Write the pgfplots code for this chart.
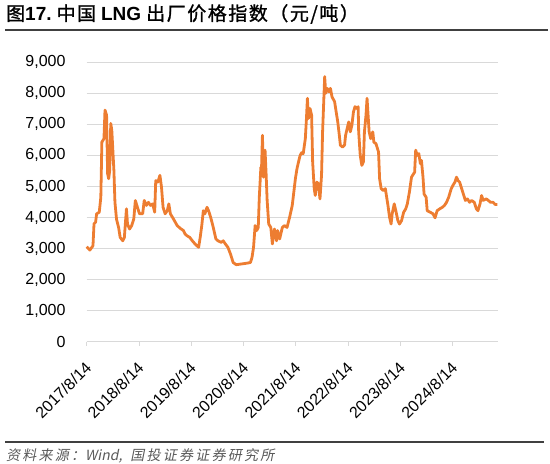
\documentclass[border=0pt]{standalone}
\usepackage{pgfplots}
\pgfplotsset{compat=1.18}
\usepackage{pgfplotstable}
\usepackage{fontspec}
\setmainfont{Liberation Sans}
\newfontfamily\cjk{Noto Sans CJK SC}
\newfontfamily\cjktitle{Noto Sans CJK SC}[FakeBold=1.2,LetterSpace=8]
\newfontfamily\cjksrc{Noto Sans CJK SC}[FakeSlant=0.2,LetterSpace=16]
\newfontfamily\latinsrc{Noto Sans CJK SC}[FakeSlant=0.2]
\definecolor{lngorange}{HTML}{ED7D31}
\definecolor{gridgray}{HTML}{D9D9D9}
\definecolor{rulegray}{HTML}{404040}
\definecolor{srcgray}{HTML}{595959}
\pgfplotstableread{
t v
2017.62 3060
2017.68 2950
2017.74 3090
2017.76 3800
2017.79 3850
2017.81 4120
2017.86 4170
2017.89 4650
2017.91 6430
2017.95 6540
2017.97 7460
2018.00 7300
2018.02 5410
2018.04 5250
2018.06 5520
2018.08 7030
2018.10 6810
2018.14 5520
2018.16 4490
2018.19 3950
2018.23 3680
2018.26 3360
2018.31 3250
2018.34 3360
2018.38 4280
2018.40 3790
2018.44 3630
2018.48 3740
2018.52 3950
2018.55 4550
2018.59 4330
2018.63 4120
2018.69 4120
2018.72 4550
2018.76 4390
2018.80 4490
2018.84 4390
2018.88 4440
2018.92 4170
2018.94 5190
2018.98 5140
2019.02 5360
2019.05 4980
2019.08 4330
2019.12 4120
2019.16 4220
2019.19 4440
2019.22 4120
2019.28 3950
2019.35 3740
2019.41 3650
2019.47 3580
2019.50 3470
2019.54 3410
2019.59 3360
2019.64 3250
2019.69 3150
2019.76 3040
2019.79 3360
2019.82 3740
2019.85 4220
2019.88 4120
2019.92 4330
2019.95 4220
2019.99 4010
2020.04 3680
2020.09 3310
2020.13 3250
2020.19 3200
2020.23 3250
2020.27 3150
2020.32 3040
2020.37 2820
2020.42 2550
2020.48 2480
2020.56 2500
2020.65 2520
2020.75 2550
2020.78 2710
2020.81 3040
2020.84 3740
2020.87 3580
2020.90 3680
2020.92 4650
2020.95 5620
2020.96 5410
2020.98 6650
2021.00 5300
2021.03 6170
2021.05 5410
2021.07 4550
2021.10 3790
2021.14 3680
2021.17 3150
2021.21 3630
2021.25 3250
2021.27 3580
2021.31 3310
2021.36 3680
2021.40 3740
2021.45 3680
2021.50 4010
2021.55 4390
2021.58 4820
2021.61 5250
2021.64 5570
2021.67 5790
2021.70 6000
2021.73 6090
2021.76 6060
2021.80 6540
2021.82 7140
2021.84 7840
2021.86 7190
2021.89 7510
2021.92 7300
2021.94 5790
2021.97 4930
2021.99 4710
2022.02 5140
2022.05 5090
2022.08 4600
2022.11 5360
2022.13 6760
2022.17 8540
2022.19 8000
2022.22 8160
2022.25 8050
2022.28 8160
2022.31 7890
2022.36 7730
2022.39 7400
2022.42 7080
2022.45 6650
2022.47 6330
2022.51 6270
2022.55 6330
2022.57 6650
2022.60 6870
2022.63 7080
2022.66 6760
2022.69 6970
2022.72 7400
2022.75 7570
2022.79 7510
2022.81 7570
2022.82 6760
2022.85 6000
2022.88 5680
2022.91 5790
2022.93 6760
2022.96 7300
2022.98 7840
2023.00 7300
2023.02 6760
2023.05 6540
2023.09 6760
2023.11 6430
2023.15 6380
2023.20 6110
2023.22 5250
2023.25 4930
2023.29 4870
2023.33 4930
2023.35 4710
2023.38 4390
2023.41 4010
2023.44 3790
2023.46 4120
2023.50 4440
2023.53 4220
2023.57 3900
2023.60 3790
2023.64 3900
2023.68 4170
2023.72 4280
2023.75 4440
2023.79 4820
2023.83 5300
2023.87 5410
2023.89 5460
2023.91 6170
2023.94 6000
2023.97 6060
2024.00 5730
2024.02 5840
2024.05 5300
2024.07 4760
2024.11 4650
2024.13 4220
2024.19 4170
2024.24 4120
2024.28 3990
2024.32 4220
2024.37 4280
2024.42 4330
2024.46 4390
2024.50 4490
2024.54 4650
2024.59 4930
2024.62 5030
2024.66 5140
2024.69 5300
2024.72 5190
2024.75 5140
2024.78 4980
2024.83 4710
2024.86 4550
2024.90 4600
2024.94 4490
2024.98 4550
2025.03 4490
2025.07 4280
2025.10 4220
2025.14 4440
2025.17 4710
2025.20 4550
2025.26 4600
2025.30 4550
2025.34 4490
2025.39 4490
2025.43 4420
2025.47 4420
}\lngdata
\begin{document}
\begin{tikzpicture}
\path[use as bounding box] (0pt,0pt) rectangle (550pt,464pt);
\node[anchor=west, inner sep=0pt] at (6pt,450pt) {\fontsize{19pt}{21pt}\selectfont\cjktitle 图{\rmfamily\bfseries 17.}\hspace{5pt}中国\hspace{5pt}{\rmfamily\bfseries LNG}\hspace{5pt}出厂价格指数（元/吨）};
\draw[rulegray, line width=2pt] (5pt,434pt) -- (548pt,434pt);
\draw[rulegray, line width=2pt] (5pt,22.3pt) -- (544pt,22.3pt);
\node[anchor=west, inner sep=0pt, text=srcgray] at (6pt,8.5pt) {\fontsize{14pt}{16pt}\selectfont\cjksrc 资料来源：{\latinsrc Wind,}\hspace{8pt}国投证券证券研究所};
\begin{axis}[
  at={(86.7pt,122.3pt)}, anchor=south west,
  scale only axis, width=411pt, height=279.4pt,
  xmin=2017.62, xmax=2025.478,
  ymin=0, ymax=9000,
  axis x line*=bottom, axis y line*=left,
  x axis line style={gridgray, line width=1pt, -},
  y axis line style={draw=none},
  ytick={0,1000,...,9000},
  ymajorgrids, grid style={gridgray, line width=1pt},
  ytick style={draw=none},
  xtick={2017.62,2018.62,2019.62,2020.62,2021.62,2022.62,2023.62,2024.62},
  xticklabels={2017/8/14,2018/8/14,2019/8/14,2020/8/14,2021/8/14,2022/8/14,2023/8/14,2024/8/14},
  xtick style={gridgray, line width=1pt},
  tick align=outside, major tick length=4pt,
  scaled y ticks=false,
  /pgf/number format/.cd, 1000 sep={,}, assume math mode=true, /pgfplots/.cd,
  yticklabel style={font=\fontsize{16pt}{16pt}\selectfont, anchor=east, inner sep=0pt, xshift=-17pt},
  xticklabel style={font=\fontsize{16pt}{16pt}\selectfont, xshift=-2.5pt, yshift=-15pt, rotate=45, anchor=north east, inner sep=0pt},
  clip=false,
]
\addplot[lngorange, line width=2.8pt, line join=round] table[x=t, y=v] {\lngdata};
\end{axis}
\end{tikzpicture}
\end{document}
